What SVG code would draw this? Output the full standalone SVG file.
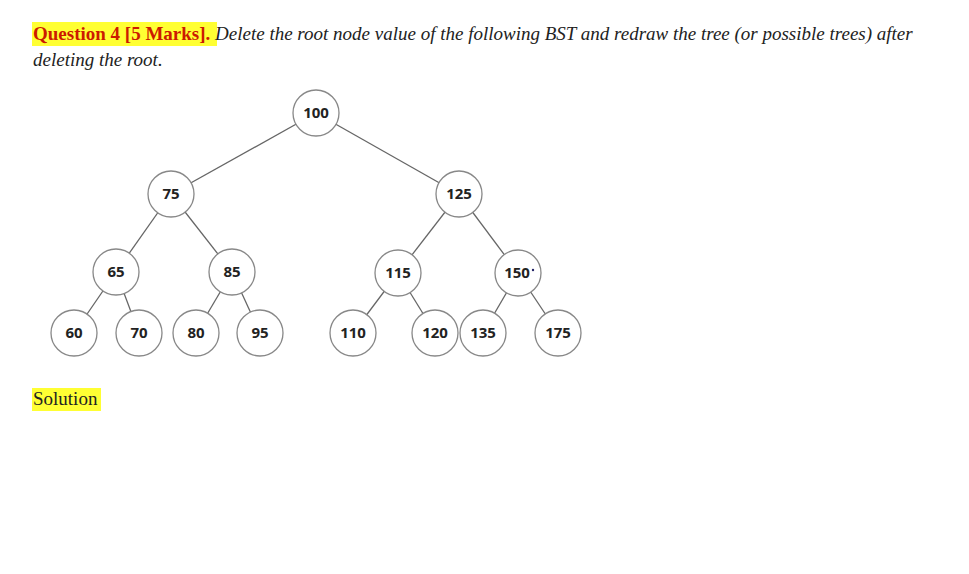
<svg xmlns="http://www.w3.org/2000/svg" width="969" height="574" viewBox="0 0 969 574">
<style>
.n circle{fill:#fff;stroke:#888;stroke-width:1.3}
.n text{font-family:"Open Sans","DejaVu Sans",sans-serif;font-weight:bold;font-size:15px;fill:#222;text-anchor:middle}
#edges line{stroke:#666;stroke-width:1.3}
.t{font-family:"Liberation Serif",serif;font-size:19px}
</style>
<rect width="969" height="574" fill="#fff"/>
<rect x="32" y="22" width="185" height="24" fill="#ffff33"/>
<text class="t" x="33" y="40"><tspan font-weight="bold" fill="#cc1a00">Question 4 [5 Marks].</tspan><tspan font-style="italic" fill="#222"> Delete the root node value of the following BST and redraw the tree (or possible trees) after</tspan></text>
<text class="t" x="33" y="66" font-style="italic" fill="#222">deleting the root.</text>
<rect x="32" y="388" width="69" height="23" fill="#ffff33"/>
<text class="t" x="33" y="405" fill="#222">Solution</text>
<g id="edges">
<line x1="316" y1="113" x2="171" y2="194"/><line x1="316" y1="113" x2="459" y2="194"/>
<line x1="171" y1="194" x2="116" y2="272"/><line x1="171" y1="194" x2="232" y2="272"/>
<line x1="459" y1="194" x2="398" y2="273"/><line x1="459" y1="194" x2="518" y2="273"/>
<line x1="116" y1="272" x2="74" y2="333"/><line x1="116" y1="272" x2="139" y2="333"/>
<line x1="232" y1="272" x2="196" y2="333"/><line x1="232" y1="272" x2="260" y2="333"/>
<line x1="398" y1="273" x2="353" y2="333"/><line x1="398" y1="273" x2="435" y2="333"/>
<line x1="518" y1="273" x2="483" y2="333"/><line x1="518" y1="273" x2="558" y2="333"/>
</g>
<g id="n100" class="n"><circle cx="316" cy="113" r="23"/><text x="316" y="118">100</text></g>
<g id="n75" class="n"><circle cx="171" cy="194" r="23"/><text x="171" y="199">75</text></g>
<g id="n125" class="n"><circle cx="459" cy="194" r="23"/><text x="459" y="199">125</text></g>
<g id="n65" class="n"><circle cx="116" cy="272" r="23"/><text x="116" y="277">65</text></g>
<g id="n85" class="n"><circle cx="232" cy="272" r="23"/><text x="232" y="277">85</text></g>
<g id="n115" class="n"><circle cx="398" cy="273" r="23"/><text x="398" y="278">115</text></g>
<g id="n150" class="n"><circle cx="518" cy="273" r="23"/><text x="517" y="278">150</text><circle cx="533" cy="270" r="1.2" style="fill:#226;stroke:none"/></g>
<g id="n60" class="n"><circle cx="74" cy="333" r="23"/><text x="74" y="338">60</text></g>
<g id="n70" class="n"><circle cx="139" cy="333" r="23"/><text x="139" y="338">70</text></g>
<g id="n80" class="n"><circle cx="196" cy="333" r="23"/><text x="196" y="338">80</text></g>
<g id="n95" class="n"><circle cx="260" cy="333" r="23"/><text x="260" y="338">95</text></g>
<g id="n110" class="n"><circle cx="353" cy="333" r="23"/><text x="353" y="338">110</text></g>
<g id="n120" class="n"><circle cx="435" cy="333" r="23"/><text x="435" y="338">120</text></g>
<g id="n135" class="n"><circle cx="483" cy="333" r="23"/><text x="483" y="338">135</text></g>
<g id="n175" class="n"><circle cx="558" cy="333" r="23"/><text x="558" y="338">175</text></g>
</svg>
